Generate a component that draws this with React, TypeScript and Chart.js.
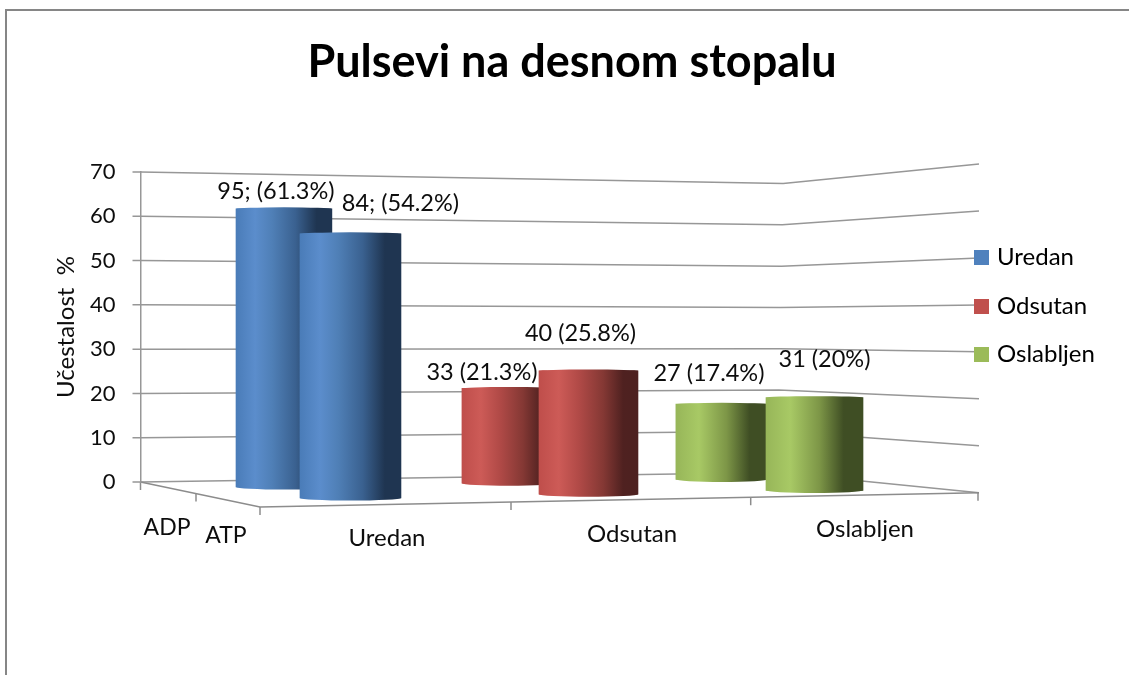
import React, { useEffect, useRef } from "react";
import { Chart, registerables } from "chart.js";

Chart.register(...registerables);

const categories = ["Uredan", "Odsutan", "Oslabljen"];
const depthLabels = ["ADP", "ATP"];
const adpValues = [61.3, 21.3, 17.4];
const atpValues = [54.2, 25.8, 20];
const adpLabels = ["95; (61.3%)", "33 (21.3%)", "27 (17.4%)"];
const atpLabels = ["84; (54.2%)", "40 (25.8%)", "31 (20%)"];
const yTicksMax = 70;
const yTitle = "Učestalost  %";
const chartTitle = "Pulsevi na desnom stopalu";
const legendColors = ["#4f81bd", "#c0504d", "#9bbb59"];

const FONT = "Lato";
const TEXT = "#0d0d0d";
const LABEL_SIZE = 24;

// perspective corrections of the pseudo-3D view
const bow = [0, 6, 0];
const tilt = [0, -3.8, -7.7];
const heightPersp = [1.02, 1, 0.97];
const widthPersp = [1.02, 1, 0.98];
const rows = {
  back: { xId: "xBack", yId: "yBack", drop: 5, barWidth: 94 },
  front: { xId: "xFront", yId: "yFront", drop: 16, barWidth: 99 },
};
const adpLabelOffsets = [[-8, -17], [-27, -16], [-13, -31]];
const atpLabelOffsets = [[50, -30], [-8, -37], [10, -38]];
const categoryLabelPos = [[387, 538], [632, 534], [865, 529]];
const depthLabelPos = [[167, 528], [226, 536]];

const gradientStops = [
  [[0, "#4a7cb8"], [0.2, "#5b8dcc"], [0.38, "#4f7fb6"], [0.62, "#3a6190"], [0.84, "#1f3551"], [1, "#1f3551"]],
  [[0, "#bf4e4b"], [0.2, "#cd5b57"], [0.4, "#b14a47"], [0.65, "#843834"], [0.85, "#4f2120"], [1, "#4d2120"]],
  [[0, "#97b659"], [0.25, "#a8c965"], [0.55, "#7d9647"], [0.8, "#3f4e24"], [1, "#3f4e24"]],
];

function geom(chart: any, row: any, i: number, v: number) {
  const xS = chart.scales[row.xId];
  const yS = chart.scales[row.yId];
  const zero = yS.getPixelForValue(0);
  const base = zero + row.drop + tilt[i];
  return {
    cx: xS.getPixelForValue(i) + bow[i],
    w: row.barWidth * widthPersp[i],
    base,
    top: base - (zero - yS.getPixelForValue(v)) * heightPersp[i],
  };
}

function makeGradient(chart: any, row: any, i: number, v: number) {
  const g = geom(chart, row, i, v);
  const grad = chart.ctx.createLinearGradient(g.cx - g.w / 2, 0, g.cx + g.w / 2, 0);
  gradientStops[i].forEach((s: any) => grad.addColorStop(s[0], s[1]));
  return grad;
}

const rowOf = (ds: any) => (ds.rowKey === "back" ? rows.back : rows.front);

const cylinderPlugin = {
  id: "cylinder",
  afterDatasetsUpdate(chart: any) {
    chart.data.datasets.forEach((ds: any, d: number) => {
      const meta = chart.getDatasetMeta(d);
      meta.data.forEach((el: any, i: number) => {
        const g = geom(chart, rowOf(ds), i, ds.data[i].y);
        el.x = g.cx;
        el.width = g.w;
        el.base = g.base;
        el.y = g.top;
      });
    });
  },
  afterDatasetDraw(chart: any, args: any) {
    const ds = chart.data.datasets[args.index];
    const ctx = chart.ctx;
    args.meta.data.forEach((el: any, i: number) => {
      const grad = makeGradient(chart, rowOf(ds), i, ds.data[i].y);
      ctx.save();
      ctx.fillStyle = grad;
      ctx.beginPath();
      ctx.ellipse(el.x, el.base, el.width / 2, 2.6, 0, 0, Math.PI * 2);
      ctx.fill();
      ctx.beginPath();
      ctx.ellipse(el.x, el.y, el.width / 2, 1.4, 0, 0, Math.PI * 2);
      ctx.fill();
      ctx.restore();
    });
  },
};

const wallPlugin = {
  id: "wall",
  afterLayout(chart: any) {
    chart.titleBlock.left = 15;
    chart.titleBlock.right = 1129;
    const lg = chart.legend;
    const pad = lg.options.labels.padding;
    lg.left = 978 - pad;
    lg.top = 245.5 - pad;
    lg.right = 1129;
    lg.bottom = 480;
  },
  beforeDraw(chart: any) {
    const ctx = chart.ctx;
    const y = chart.scales.y;
    const left = chart.chartArea.left;
    const zero = y.getPixelForValue(0);
    ctx.save();
    // outer frame
    ctx.strokeStyle = "#868686";
    ctx.lineWidth = 2;
    ctx.beginPath();
    ctx.moveTo(6, 675);
    ctx.lineTo(6, 10);
    ctx.lineTo(1129, 10);
    ctx.stroke();
    // perspective grid
    ctx.strokeStyle = "#979797";
    ctx.lineWidth = 1.5;
    y.ticks.forEach((t: any) => {
      const yL = y.getPixelForValue(t.value);
      const h = zero - yL;
      ctx.beginPath();
      ctx.moveTo(left - 8, yL);
      ctx.lineTo(left, yL);
      ctx.lineTo(777 + h * 0.02, 472.5 - h * 0.932);
      ctx.lineTo(979, 492.7 - h * 1.06);
      ctx.stroke();
    });
    // floor
    ctx.strokeStyle = "#8c8c8c";
    const fl = 507;
    const fr = 492.7;
    ctx.beginPath();
    ctx.moveTo(left, zero);
    ctx.lineTo(260, fl);
    ctx.lineTo(979, fr);
    ctx.stroke();
    const tick = (x: number, yy: number) => {
      ctx.beginPath();
      ctx.moveTo(x, yy);
      ctx.lineTo(x, yy + 8);
      ctx.stroke();
    };
    tick(left, zero);
    tick(196, zero + ((196 - left) / (260 - left)) * (fl - zero));
    [260, 511, 750.7, 978].forEach((x) => tick(x, fl + ((x - 260) / (979 - 260)) * (fr - fl)));
    ctx.restore();
  },
  afterDraw(chart: any) {
    const ctx = chart.ctx;
    ctx.save();
    ctx.fillStyle = TEXT;
    ctx.textAlign = "center";
    ctx.textBaseline = "middle";
    ctx.font = `${LABEL_SIZE}px ${FONT}`;
    categories.forEach((c, i) => ctx.fillText(c, categoryLabelPos[i][0], categoryLabelPos[i][1]));
    ctx.font = `23px ${FONT}`;
    depthLabels.forEach((c, i) => ctx.fillText(c, depthLabelPos[i][0], depthLabelPos[i][1]));
    ctx.font = `23.5px ${FONT}`;
    chart.data.datasets.forEach((ds: any, d: number) => {
      chart.getDatasetMeta(d).data.forEach((el: any, i: number) => {
        ctx.fillText(ds.valueLabels[i], el.x + ds.labelOffsets[i][0], el.y + ds.labelOffsets[i][1]);
      });
    });
    ctx.restore();
  },
};

function swatch(color: string) {
  const c = document.createElement("canvas");
  c.width = 15;
  c.height = 15;
  const x = c.getContext("2d")!;
  x.fillStyle = color;
  x.fillRect(0, 0, 15, 15);
  return c;
}

export default function App() {
  const ref = useRef<HTMLCanvasElement>(null);
  useEffect(() => {
    document.body.style.margin = "0";
    const bg = (row: any, values: number[], i: number) => (ctx: any) => {
      if (!ctx.chart.chartArea || ctx.dataIndex == null) return legendColors[i];
      return makeGradient(ctx.chart, row, ctx.dataIndex, values[ctx.dataIndex]);
    };
    const chart = new Chart(ref.current!, {
      type: "bar",
      data: {
        labels: categories,
        datasets: [
          {
            label: depthLabels[1],
            rowKey: "front",
            data: atpValues.map((y, x) => ({ x, y })),
            xAxisID: "xFront",
            yAxisID: "yFront",
            order: 0,
            grouped: false,
            clip: false,
            barThickness: rows.front.barWidth,
            backgroundColor: bg(rows.front, atpValues, 0),
            valueLabels: atpLabels,
            labelOffsets: atpLabelOffsets,
          },
          {
            label: depthLabels[0],
            rowKey: "back",
            data: adpValues.map((y, x) => ({ x, y })),
            xAxisID: "xBack",
            yAxisID: "yBack",
            order: 1,
            grouped: false,
            clip: false,
            barThickness: rows.back.barWidth,
            backgroundColor: bg(rows.back, adpValues, 0),
            valueLabels: adpLabels,
            labelOffsets: adpLabelOffsets,
          },
        ] as any,
      },
      options: {
        responsive: false,
        animation: false,
        layout: { padding: { left: 50, right: 155, top: 0, bottom: 193 } },
        scales: {
          y: {
            position: "left",
            min: 0,
            max: yTicksMax,
            afterFit: (s: any) => {
              s.width = 90.5;
            },
            ticks: { stepSize: 10, padding: 25, color: TEXT, font: { family: FONT, size: 22 } },
            grid: { drawOnChartArea: false, drawTicks: false, tickLength: 8 },
            border: { display: true, color: "#979797", width: 1.5 },
            title: {
              display: true,
              text: yTitle,
              color: TEXT,
              font: { family: FONT, size: 24 },
              padding: { top: 2, bottom: 0 },
            },
          },
          yBack: { display: false, min: 0, max: 69.66 },
          yFront: { display: false, min: 0, max: 64.85 },
          xBack: { type: "linear", display: false, offset: false, min: -0.655, max: 3.151 },
          xFront: { type: "linear", display: false, offset: false, min: -0.905, max: 2.6875 },
        } as any,
        plugins: {
          tooltip: { enabled: false },
          title: {
            display: true,
            text: chartTitle,
            color: "#000",
            font: { family: FONT, size: 45, weight: "bold" },
            padding: { top: 35, bottom: 83 },
          },
          legend: {
            position: "chartArea",
            align: "start",
            labels: {
              usePointStyle: true,
              pointStyleWidth: 7,
              padding: 24.5,
              color: TEXT,
              font: { family: FONT, size: LABEL_SIZE },
              generateLabels: () =>
                categories.map((text, i) => ({
                  text,
                  fillStyle: legendColors[i],
                  strokeStyle: legendColors[i],
                  lineWidth: 0,
                  pointStyle: swatch(legendColors[i]),
                  hidden: false,
                  index: i,
                })),
            },
          },
        },
      } as any,
      plugins: [cylinderPlugin, wallPlugin],
    });
    return () => chart.destroy();
  }, []);
  return <canvas ref={ref} width={1129} height={675} style={{ display: "block" }} />;
}
